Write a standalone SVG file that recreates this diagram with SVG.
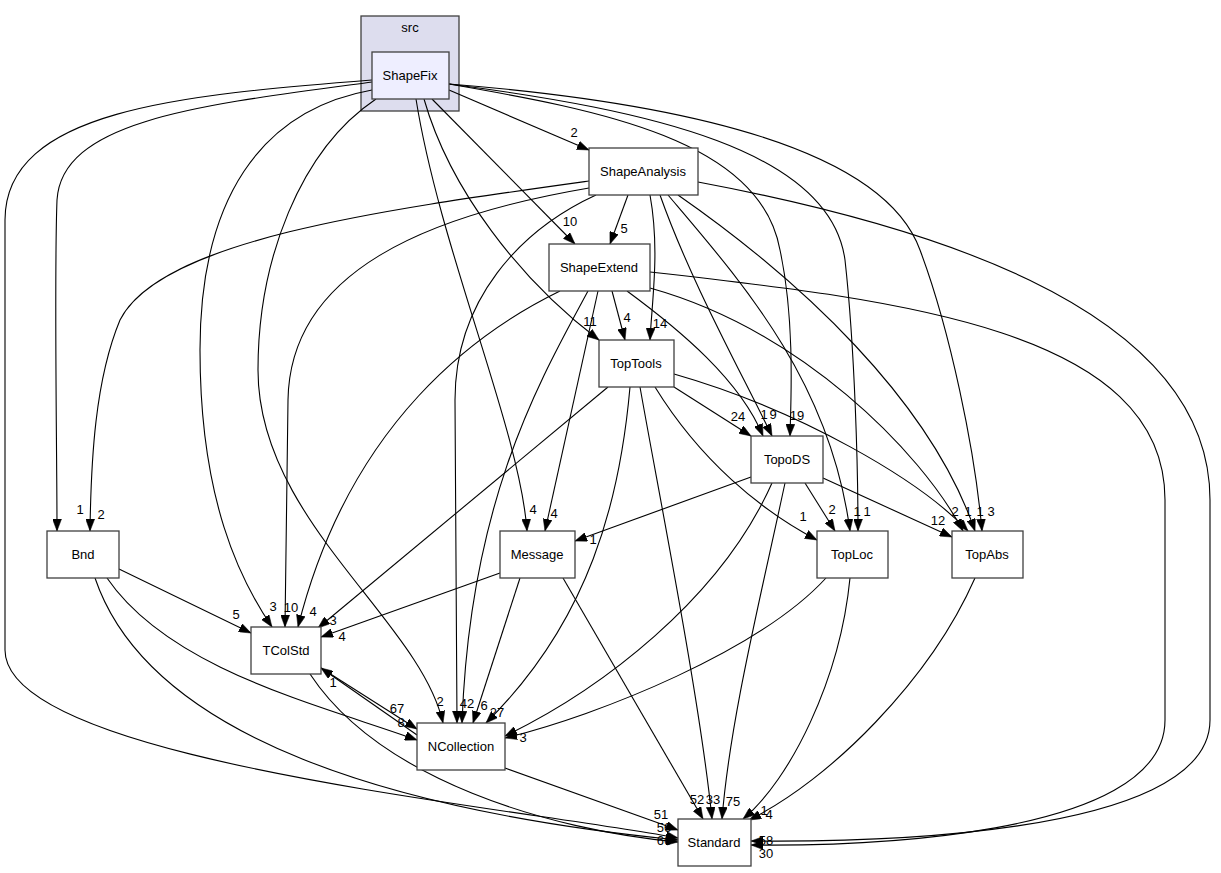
<svg xmlns="http://www.w3.org/2000/svg" width="1221" height="873" viewBox="0 0 1221 873">
<defs>
<style>
.n rect{fill:#ffffff;stroke:#404040;stroke-width:1.3}
.n text,.lb text{font-family:"Liberation Sans",Arial,sans-serif;font-size:13px;fill:#000;text-anchor:middle}
.e path{fill:none;stroke:#000;stroke-width:1.1;marker-end:url(#ah)}
</style>
<marker id="ah" viewBox="0 0 12 9" refX="12" refY="4.5" markerWidth="12" markerHeight="9" markerUnits="userSpaceOnUse" orient="auto">
<path d="M0,0 L12,4.5 L0,9 z" fill="#000" stroke="#000" stroke-width="0.5"/>
</marker>
</defs>
<rect width="1221" height="873" fill="#ffffff"/>
<g id="cluster_src" class="n">
<rect x="361" y="16" width="98" height="95" style="fill:#ddddee;stroke:#404040"/>
<text x="410" y="32">src</text>
</g>
<g class="e" id="edges">
<path d="M372,82 C200,105 62,120 57,200 C54,280 57,450 57,531"/>
<path d="M372,80 C180,95 5,110 5,220 L5,650 C5,760 500,805 678,838"/>
<path d="M372,90 C260,110 200,200 200,350 C200,500 240,580 272,627"/>
<path d="M376,99 C300,150 258,260 258,370 C258,520 420,620 443,723"/>
<path d="M424,99 C450,190 520,280 599,340"/>
<path d="M432,99 L575,244"/>
<path d="M416,99 C440,250 520,430 527,531"/>
<path d="M449,90 L589,150"/>
<path d="M449,84 C600,110 760,140 780,250 C795,320 791,400 790,436"/>
<path d="M449,84 C650,110 830,150 845,260 C855,350 858,470 858,531"/>
<path d="M449,84 C650,100 880,140 920,250 C950,330 975,450 982,531"/>
<path d="M628,195 L610,244"/>
<path d="M589,181 C380,210 160,240 120,320 C95,380 91,460 90,531"/>
<path d="M589,188 C430,215 290,270 288,400 L285,627"/>
<path d="M596,195 C520,230 455,300 455,400 L457,723"/>
<path d="M650,195 C660,250 652,300 650,340"/>
<path d="M660,195 C690,280 740,370 772,436"/>
<path d="M668,195 C740,280 830,380 850,531"/>
<path d="M678,195 C800,280 930,400 975,531"/>
<path d="M698,182 C900,220 1210,300 1210,500 L1210,720 C1210,840 850,842 751,841"/>
<path d="M560,291 C480,330 350,420 298,627"/>
<path d="M588,291 C540,380 470,500 462,723"/>
<path d="M598,291 L545,531"/>
<path d="M612,291 L625,340"/>
<path d="M627,291 C680,330 740,380 763,436"/>
<path d="M650,288 C800,330 920,450 963,531"/>
<path d="M650,272 C900,300 1165,330 1165,500 L1165,720 C1165,840 850,846 751,845"/>
<path d="M674,387 L751,436"/>
<path d="M608,387 L318,628"/>
<path d="M630,387 C620,500 590,620 486,723"/>
<path d="M640,387 C660,500 700,700 712,819"/>
<path d="M655,387 C700,460 760,510 817,540"/>
<path d="M674,374 C800,410 920,480 968,531"/>
<path d="M751,477 L575,541"/>
<path d="M805,483 L835,531"/>
<path d="M823,478 L952,537"/>
<path d="M772,483 C720,600 600,690 505,736"/>
<path d="M785,483 C760,600 730,720 722,819"/>
<path d="M826,578 C760,650 600,715 505,738"/>
<path d="M850,578 C840,680 790,780 743,819"/>
<path d="M975,578 C930,680 830,780 749,820"/>
<path d="M500,573 L321,637"/>
<path d="M520,578 L473,723"/>
<path d="M563,578 L703,819"/>
<path d="M119,569 L251,633"/>
<path d="M107,578 C170,670 320,705 417,740"/>
<path d="M95,578 C150,740 400,812 678,840"/>
<path d="M321,668 L417,729"/>
<path d="M310,674 C380,780 550,830 678,842"/>
<path d="M417,735 L321,668"/>
<path d="M505,768 L678,830"/>
</g>
<g class="lb" id="labels">
<text x="574" y="137">2</text>
<text x="570" y="226">10</text>
<text x="624" y="233">5</text>
<text x="590" y="326">11</text>
<text x="627" y="322">4</text>
<text x="660" y="328">14</text>
<text x="738" y="421">24</text>
<text x="764" y="419">1</text>
<text x="773" y="419">9</text>
<text x="797" y="420">19</text>
<text x="80" y="514">1</text>
<text x="101" y="519">2</text>
<text x="533" y="514">4</text>
<text x="554" y="518">4</text>
<text x="593" y="544">1</text>
<text x="803" y="521">1</text>
<text x="832" y="514">2</text>
<text x="857" y="516">1</text>
<text x="867" y="516">1</text>
<text x="938" y="525">12</text>
<text x="955" y="516">2</text>
<text x="968" y="516">1</text>
<text x="980" y="516">1</text>
<text x="991" y="516">3</text>
<text x="236" y="619">5</text>
<text x="273" y="611">3</text>
<text x="291" y="612">10</text>
<text x="313" y="616">4</text>
<text x="333" y="625">3</text>
<text x="342" y="641">4</text>
<text x="333" y="687">1</text>
<text x="397" y="713">67</text>
<text x="401" y="727">8</text>
<text x="440" y="706">2</text>
<text x="467" y="708">42</text>
<text x="484" y="710">6</text>
<text x="497" y="717">27</text>
<text x="523" y="742">3</text>
<text x="697" y="804">52</text>
<text x="713" y="804">33</text>
<text x="733" y="806">75</text>
<text x="764" y="815">1</text>
<text x="769" y="819">4</text>
<text x="661" y="819">51</text>
<text x="664" y="832">56</text>
<text x="664" y="845">66</text>
<text x="766" y="845">58</text>
<text x="766" y="858">30</text>
</g>
<g id="ShapeFix" class="n"><rect x="372" y="52" width="77" height="47" style="fill:#eeeeff"/><text x="410" y="80">ShapeFix</text></g>
<g id="ShapeAnalysis" class="n"><rect x="589" y="148" width="109" height="47"/><text x="643" y="176">ShapeAnalysis</text></g>
<g id="ShapeExtend" class="n"><rect x="549" y="244" width="101" height="47"/><text x="599" y="272">ShapeExtend</text></g>
<g id="TopTools" class="n"><rect x="599" y="340" width="75" height="47"/><text x="636" y="368">TopTools</text></g>
<g id="TopoDS" class="n"><rect x="751" y="436" width="72" height="47"/><text x="787" y="464">TopoDS</text></g>
<g id="Bnd" class="n"><rect x="47" y="531" width="72" height="47"/><text x="83" y="559">Bnd</text></g>
<g id="Message" class="n"><rect x="500" y="531" width="75" height="47"/><text x="537" y="559">Message</text></g>
<g id="TopLoc" class="n"><rect x="817" y="531" width="71" height="47"/><text x="852" y="559">TopLoc</text></g>
<g id="TopAbs" class="n"><rect x="952" y="531" width="71" height="47"/><text x="987" y="559">TopAbs</text></g>
<g id="TColStd" class="n"><rect x="251" y="627" width="70" height="47"/><text x="286" y="655">TColStd</text></g>
<g id="NCollection" class="n"><rect x="417" y="723" width="88" height="47"/><text x="461" y="751">NCollection</text></g>
<g id="Standard" class="n"><rect x="678" y="819" width="73" height="47"/><text x="714" y="847">Standard</text></g>
</svg>
